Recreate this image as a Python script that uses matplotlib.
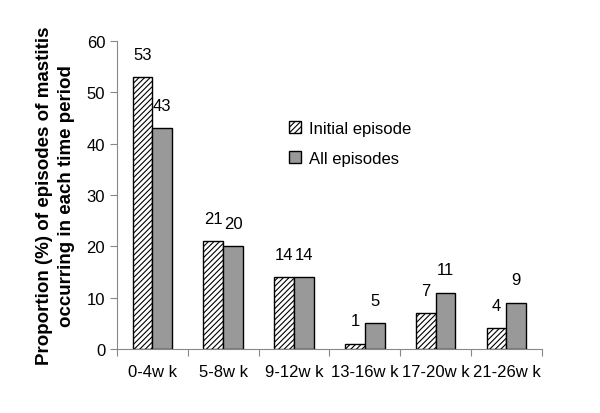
import matplotlib
matplotlib.use("Agg")
import matplotlib.pyplot as plt
import numpy as np

plt.rcParams['font.family'] = ['Liberation Sans', 'DejaVu Sans']
plt.rcParams['hatch.linewidth'] = 0.8

categories = ["0-4w k", "5-8w k", "9-12w k", "13-16w k", "17-20w k", "21-26w k"]
initial = [53, 21, 14, 1, 7, 4]
all_eps = [43, 20, 14, 5, 11, 9]

fig = plt.figure(figsize=(6.0, 4.14), dpi=100)
ax = fig.add_axes([0.195, 0.1546, 0.708, 0.744])

x = np.arange(len(categories))
w = 0.28
ax.bar(x - w/2, initial, w, facecolor='white', edgecolor='black', hatch='//////', linewidth=1.0, label='Initial episode')
ax.bar(x + w/2, all_eps, w, facecolor='#999999', edgecolor='black', linewidth=1.0, label='All episodes')

for xi, v in zip(x, initial):
    ax.text(xi - w/2, v + 3.0, str(v), ha='center', va='bottom', fontsize=12)
for xi, v in zip(x, all_eps):
    ax.text(xi + w/2, v + 3.0, str(v), ha='center', va='bottom', fontsize=12)

ax.set_xlim(-0.5, len(categories) - 0.5)
ax.set_ylim(0, 60)
ax.set_yticks([0, 10, 20, 30, 40, 50, 60])
ax.set_xticks(np.arange(-0.5, len(categories), 1.0))
ax.set_xticklabels([])
ax.set_xticks(x, minor=True)
ax.set_xticklabels(categories, minor=True, fontsize=12)
ax.tick_params(axis='x', which='minor', length=0, pad=11)
ax.tick_params(axis='x', which='major', length=5, direction='out', color='#888888')
ax.tick_params(axis='y', length=5, direction='out', color='#888888', labelsize=12)
for s in ['top', 'right']:
    ax.spines[s].set_visible(False)
for s in ['left', 'bottom']:
    ax.spines[s].set_color('#888888')

ax.set_ylabel("Proportion (%) of episodes of mastitis\noccurring in each time period", fontsize=13.5, fontweight='bold', labelpad=8, linespacing=1.45)

ax.legend(loc='upper left', bbox_to_anchor=(0.37, 0.79), frameon=False, fontsize=12, handlelength=0.7, handleheight=0.7, handletextpad=0.5, labelspacing=0.9)

fig.savefig("out.png", dpi=100)
